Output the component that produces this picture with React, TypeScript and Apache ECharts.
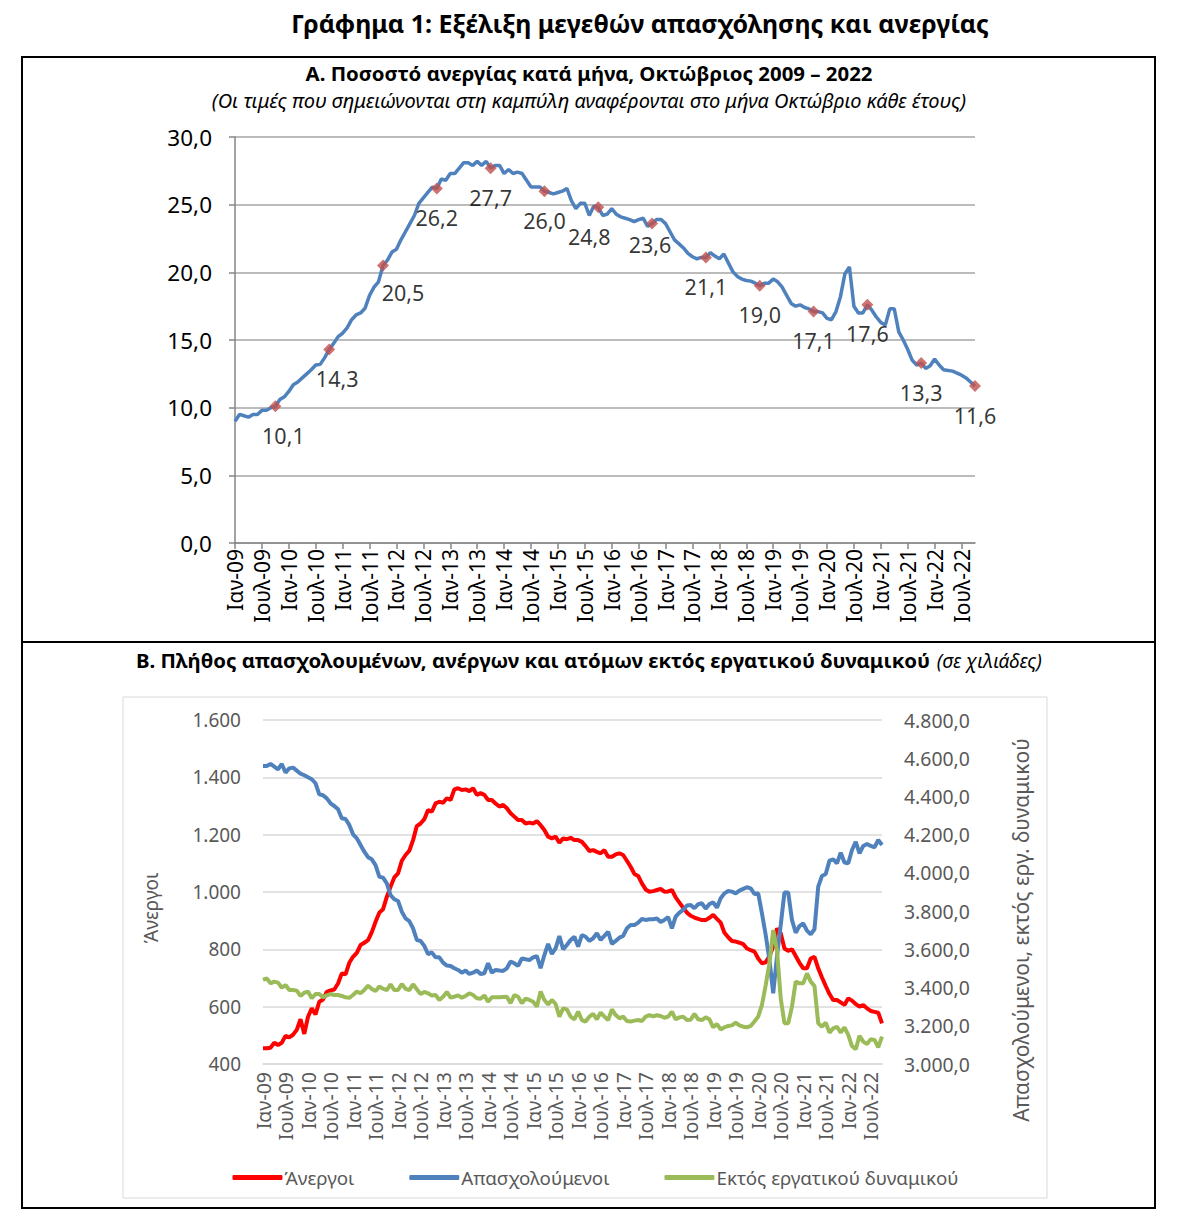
import React, { useEffect, useRef } from "react";
import * as echarts from "echarts";

const FONT = "'Noto Sans', 'DejaVu Sans', sans-serif";

// ---- categories ----
const monthNames = ["Ιαν", "Φεβ", "Μαρ", "Απρ", "Μαϊ", "Ιουν", "Ιουλ", "Αυγ", "Σεπ", "Οκτ", "Νοε", "Δεκ"];
const yearCodes = ["09", "10", "11", "12", "13", "14", "15", "16", "17", "18", "19", "20", "21", "22"];
const lastMonthIndex = 9; // Οκτ-22
const months: string[] = [];
yearCodes.forEach((y, yi) => {
  monthNames.forEach((m, mi) => {
    if (yi === yearCodes.length - 1 && mi > lastMonthIndex) return;
    months.push(`${m}-${y}`);
  });
});

// ---- Panel A: unemployment rate (%) ----
const unemploymentRate = [
  9.0, 9.5, 9.4, 9.3, 9.5, 9.5, 9.8, 9.8, 10.0, 10.1, 10.6, 10.8,
  11.2, 11.7, 11.9, 12.2, 12.5, 12.8, 13.15, 13.2, 13.7, 14.3, 14.75, 15.25,
  15.5, 15.9, 16.5, 16.85, 17.0, 17.35, 18.3, 18.9, 19.3, 20.5, 20.9, 21.5,
  21.7, 22.4, 23.0, 23.6, 24.2, 25.1, 25.5, 25.9, 26.3, 26.2, 26.9, 26.8,
  27.3, 27.3, 27.7, 28.1, 28.1, 27.9, 28.2, 27.9, 28.2, 27.7, 27.9, 27.9,
  27.3, 27.6, 27.3, 27.4, 27.3, 26.8, 26.3, 26.3, 26.3, 26.0, 25.9, 25.8,
  25.9, 26.0, 26.2, 25.3, 24.7, 25.1, 25.1, 24.2, 24.9, 24.8, 24.2, 24.3,
  24.7, 24.3, 24.1, 24.0, 23.9, 23.75, 23.9, 24.0, 23.4, 23.6, 23.9, 23.9,
  23.6, 23.0, 22.4, 22.1, 21.8, 21.4, 21.15, 21.0, 21.1, 21.1, 21.45, 21.2,
  21.0, 21.35, 20.7, 20.05, 19.7, 19.5, 19.4, 19.35, 19.2, 19.0, 19.2, 19.2,
  19.5, 19.3, 18.9, 18.3, 17.7, 17.5, 17.6, 17.4, 17.3, 17.1, 17.1, 17.0,
  16.6, 16.5, 17.1, 18.2, 19.9, 20.4, 17.5, 17.0, 17.0, 17.6, 17.2, 16.7,
  16.3, 16.1, 17.3, 17.3, 15.6, 15.0, 14.3, 13.5, 13.15, 13.3, 12.9, 13.1,
  13.6, 13.15, 12.8, 12.75, 12.7, 12.55, 12.4, 12.2, 11.9, 11.6,
];

// ---- Panel B (thousands) ----
const unemployed = [
  455, 455, 457, 474, 466, 474, 498, 493, 502, 519, 556, 505,
  565, 594, 573, 617, 625, 652, 657, 660, 681, 716, 713, 753,
  774, 788, 815, 823, 832, 860, 896, 928, 940, 983, 1018, 1051,
  1065, 1109, 1129, 1144, 1181, 1230, 1239, 1254, 1286, 1280, 1309, 1315,
  1311, 1327, 1321, 1358, 1362, 1356, 1358, 1352, 1362, 1339, 1345, 1339,
  1321, 1321, 1309, 1298, 1304, 1292, 1275, 1263, 1251, 1251, 1239, 1242,
  1239, 1247, 1233, 1216, 1193, 1187, 1193, 1172, 1187, 1184, 1189, 1181,
  1181, 1175, 1160, 1143, 1146, 1140, 1135, 1146, 1123, 1123, 1131, 1135,
  1129, 1109, 1088, 1063, 1056, 1030, 1009, 1001, 1003, 1007, 1011, 1001,
  1002, 1007, 981, 963, 945, 928, 917, 911, 906, 902, 902, 910,
  920, 906, 893, 858, 842, 829, 827, 823, 818, 803, 797, 792,
  768, 751, 755, 777, 809, 873, 856, 803, 795, 800, 777, 753,
  734, 734, 768, 774, 734, 702, 672, 644, 623, 623, 615, 606,
  629, 621, 609, 600, 606, 594, 585, 582, 579, 542,
];

const employed = [
  4559, 4559, 4570, 4556, 4542, 4570, 4525, 4547, 4551, 4535, 4519, 4511,
  4500, 4490, 4469, 4411, 4406, 4390, 4364, 4350, 4333, 4286, 4282, 4251,
  4202, 4181, 4146, 4111, 4082, 4071, 4041, 3980, 3975, 3945, 3884, 3862,
  3853, 3797, 3762, 3748, 3710, 3649, 3644, 3618, 3574, 3584, 3558, 3558,
  3530, 3515, 3513, 3501, 3492, 3478, 3489, 3471, 3478, 3489, 3471, 3475,
  3527, 3478, 3492, 3489, 3487, 3501, 3536, 3527, 3513, 3553, 3548, 3544,
  3558, 3565, 3501, 3570, 3628, 3576, 3605, 3670, 3600, 3623, 3649, 3666,
  3614, 3675, 3666, 3644, 3658, 3684, 3649, 3670, 3692, 3628, 3644, 3661,
  3670, 3710, 3727, 3727, 3740, 3759, 3754, 3757, 3757, 3761, 3743, 3754,
  3768, 3710, 3771, 3792, 3806, 3829, 3832, 3815, 3836, 3841, 3813, 3837,
  3846, 3818, 3867, 3893, 3905, 3902, 3893, 3907, 3916, 3925, 3919, 3890,
  3893, 3788, 3675, 3544, 3370, 3562, 3727, 3897, 3897, 3754, 3687, 3722,
  3736, 3698, 3679, 3705, 3928, 3984, 3994, 4064, 4071, 4050, 4106, 4054,
  4050, 4120, 4163, 4102, 4141, 4151, 4141, 4134, 4172, 4146,
];

const outsideLabourForce = [
  3440, 3448, 3422, 3431, 3426, 3399, 3413, 3387, 3387, 3384, 3356, 3373,
  3379, 3344, 3366, 3366, 3349, 3359, 3366, 3361, 3361, 3356, 3349, 3346,
  3361, 3379, 3370, 3387, 3410, 3393, 3382, 3405, 3394, 3387, 3417, 3387,
  3387, 3419, 3393, 3387, 3417, 3391, 3366, 3377, 3370, 3358, 3361, 3335,
  3352, 3377, 3347, 3352, 3359, 3347, 3356, 3370, 3361, 3344, 3342, 3359,
  3326, 3349, 3349, 3349, 3351, 3352, 3318, 3361, 3352, 3318, 3342, 3335,
  3326, 3300, 3379, 3335, 3312, 3335, 3314, 3248, 3291, 3286, 3248, 3234,
  3274, 3230, 3222, 3248, 3262, 3234, 3269, 3248, 3230, 3286, 3256, 3239,
  3248, 3225, 3222, 3227, 3230, 3225, 3248, 3256, 3249, 3255, 3251, 3242,
  3248, 3274, 3234, 3244, 3248, 3230, 3232, 3262, 3234, 3230, 3244, 3234,
  3192, 3209, 3181, 3192, 3199, 3202, 3216, 3202, 3195, 3192, 3199, 3222,
  3248, 3309, 3413, 3527, 3701, 3597, 3344, 3213, 3213, 3300, 3431, 3422,
  3422, 3474, 3431, 3408, 3213, 3195, 3216, 3164, 3187, 3195, 3164, 3192,
  3152, 3094, 3077, 3147, 3117, 3105, 3129, 3126, 3087, 3143,
];

const seriesNames = ["Άνεργοι", "Απασχολούμενοι", "Εκτός εργατικού δυναμικού"];

// label nudges (pixels) for a few October labels, keyed by year code
const labelNudge: Record<string, number[]> = {
  "09": [8, 0], "10": [8, 0], "11": [20, -2], "15": [-9, 0], "16": [-2, -8],
};

// October markers (index 9 of every year)
const octoberPoints = unemploymentRate
  .map((v, i) => ({ i, v }))
  .filter(({ i }) => i % 12 === lastMonthIndex)
  .map(({ i, v }) => {
    const nudge = labelNudge[yearCodes[Math.floor(i / 12)]];
    return nudge ? { value: [i, v], label: { offset: nudge } } : { value: [i, v] };
  });

const every6 = (i: number) => i % 6 === 0;
const comma1 = (v: number) => v.toFixed(1).replace(".", ",");
const thousands = (v: number) =>
  v >= 1000 ? `${Math.floor(v / 1000)}.${String(v % 1000).padStart(3, "0")}` : String(v);

const option: any = {
  animation: false,
  backgroundColor: "#ffffff",
  textStyle: { fontFamily: FONT },
  graphic: [
    { type: "rect", silent: true, shape: { x: 22, y: 57, width: 1133, height: 1151 }, style: { fill: "none", stroke: "#000", lineWidth: 2 } },
    { type: "line", silent: true, shape: { x1: 22, y1: 642, x2: 1155, y2: 642 }, style: { stroke: "#000", lineWidth: 2 } },
    { type: "rect", silent: true, shape: { x: 123, y: 697, width: 924, height: 501 }, style: { fill: "none", stroke: "#D9D9D9", lineWidth: 1 } },
    {
      type: "text", x: 640, y: 23,
      style: { text: "Γράφημα 1: Εξέλιξη μεγεθών απασχόλησης και ανεργίας", fontFamily: FONT, fontSize: 25, fontWeight: "bold", fill: "#000", align: "center", verticalAlign: "middle" },
    },
    {
      type: "text", x: 589, y: 73,
      style: { text: "Α. Ποσοστό ανεργίας κατά μήνα, Οκτώβριος 2009 – 2022", fontFamily: FONT, fontSize: 20.4, fontWeight: "bold", fill: "#000", align: "center", verticalAlign: "middle" },
    },
    {
      type: "text", x: 589, y: 100,
      style: { text: "(Οι τιμές που σημειώνονται στη καμπύλη αναφέρονται στο μήνα Οκτώβριο κάθε έτους)", fontFamily: FONT, fontSize: 20, fontStyle: "italic", fill: "#000", align: "center", verticalAlign: "middle" },
    },
    {
      type: "text", x: 589, y: 660,
      style: {
        text: "{b|Β. Πλήθος απασχολουμένων, ανέργων και ατόμων εκτός εργατικού δυναμικού}  {i|(σε χιλιάδες)}",
        align: "center", verticalAlign: "middle",
        rich: {
          b: { fontFamily: FONT, fontSize: 20.4, fontWeight: "bold", fill: "#000" },
          i: { fontFamily: FONT, fontSize: 19.2, fontStyle: "italic", fill: "#000" },
        },
      },
    },
    {
      type: "text", x: 151, y: 908, rotation: Math.PI / 2,
      style: { text: "Άνεργοι", fontFamily: FONT, fontSize: 19, fill: "#595959", align: "center", verticalAlign: "middle" },
    },
    {
      type: "text", x: 1021, y: 930, rotation: Math.PI / 2,
      style: { text: "Απασχολούμενοι, εκτός εργ. δυναμικού", fontFamily: FONT, fontSize: 21, fill: "#595959", align: "center", verticalAlign: "middle" },
    },
  ],
  legend: {
    data: seriesNames,
    top: 1163,
    left: "center",
    icon: "roundRect",
    itemWidth: 50,
    itemHeight: 5,
    itemGap: 55,
    textStyle: { color: "#595959", fontSize: 18.8, fontFamily: FONT, padding: [0, 0, 0, -3] },
  },
  grid: [
    { left: 235, top: 137, width: 740, height: 406 },
    { left: 263, top: 720, width: 619, height: 344 },
  ],
  xAxis: [
    {
      type: "category", gridIndex: 0, data: months, boundaryGap: false,
      axisLine: { lineStyle: { color: "#868686", width: 1.5 } },
      axisTick: { show: true, interval: every6, length: 6, lineStyle: { color: "#868686", width: 1.5 } },
      axisLabel: { interval: every6, rotate: 90, fontSize: 21, color: "#000", margin: 6, fontFamily: FONT },
      splitLine: { show: false },
    },
    {
      type: "category", gridIndex: 1, data: months, boundaryGap: false,
      axisLine: { lineStyle: { color: "#D9D9D9", width: 1.5 } },
      axisTick: { show: false },
      axisLabel: { interval: every6, rotate: 90, fontSize: 19.5, color: "#595959", margin: 8, fontFamily: FONT },
      splitLine: { show: false },
    },
  ],
  yAxis: [
    {
      type: "value", gridIndex: 0, min: 0, max: 30, interval: 5,
      axisLine: { show: true, lineStyle: { color: "#868686", width: 1.5 } },
      axisTick: { show: true, length: 6, lineStyle: { color: "#868686", width: 1.5 } },
      axisLabel: { formatter: comma1, fontSize: 22.5, color: "#000", margin: 23, fontFamily: FONT },
      splitLine: { lineStyle: { color: "#A6A6A6", width: 1.5 } },
    },
    {
      type: "value", gridIndex: 1, min: 400, max: 1600, interval: 200,
      axisLine: { show: false }, axisTick: { show: false },
      axisLabel: { formatter: thousands, fontSize: 19, color: "#595959", margin: 22, fontFamily: FONT },
      splitLine: { lineStyle: { color: "#D9D9D9", width: 1.5 } },
    },
    {
      type: "value", gridIndex: 1, position: "right", min: 3000, max: 4800, interval: 200,
      axisLine: { show: false }, axisTick: { show: false },
      axisLabel: { formatter: (v: number) => `${thousands(v)},0`, fontSize: 19.4, color: "#595959", margin: 22, fontFamily: FONT },
      splitLine: { show: false },
    },
  ],
  series: [
    {
      type: "line", name: "Ποσοστό ανεργίας", xAxisIndex: 0, yAxisIndex: 0,
      data: unemploymentRate, showSymbol: false, symbol: "none",
      lineStyle: { color: "#4F81BD", width: 3.5 }, itemStyle: { color: "#4F81BD" }, z: 2,
    },
    {
      type: "scatter", name: "Οκτώβριος", xAxisIndex: 0, yAxisIndex: 0,
      data: octoberPoints, symbol: "diamond", symbolSize: 12,
      itemStyle: { color: "#C0504D" }, z: 3,
      label: {
        show: true, position: "bottom", distance: 12, fontSize: 21.5, color: "#000", fontFamily: FONT,
        formatter: (p: any) => comma1(p.value[1]),
      },
    },
    {
      type: "line", name: seriesNames[0], xAxisIndex: 1, yAxisIndex: 1,
      data: unemployed, showSymbol: false, symbol: "none",
      lineStyle: { color: "#FF0000", width: 4 }, itemStyle: { color: "#FF0000" },
    },
    {
      type: "line", name: seriesNames[1], xAxisIndex: 1, yAxisIndex: 2,
      data: employed, showSymbol: false, symbol: "none",
      lineStyle: { color: "#4F81BD", width: 4 }, itemStyle: { color: "#4F81BD" },
    },
    {
      type: "line", name: seriesNames[2], xAxisIndex: 1, yAxisIndex: 2,
      data: outsideLabourForce, showSymbol: false, symbol: "none",
      lineStyle: { color: "#9BBB59", width: 4 }, itemStyle: { color: "#9BBB59" },
    },
  ],
};

export default function App() {
  const ref = useRef<HTMLDivElement>(null);
  useEffect(() => {
    if (!ref.current) return;
    const chart = echarts.init(ref.current, null, { renderer: "svg" });
    chart.setOption(option);
    return () => chart.dispose();
  }, []);
  return (
    <div
      ref={ref}
      style={{ position: "absolute", left: 0, top: 0, width: 1191, height: 1225, background: "#fff" }}
    />
  );
}
